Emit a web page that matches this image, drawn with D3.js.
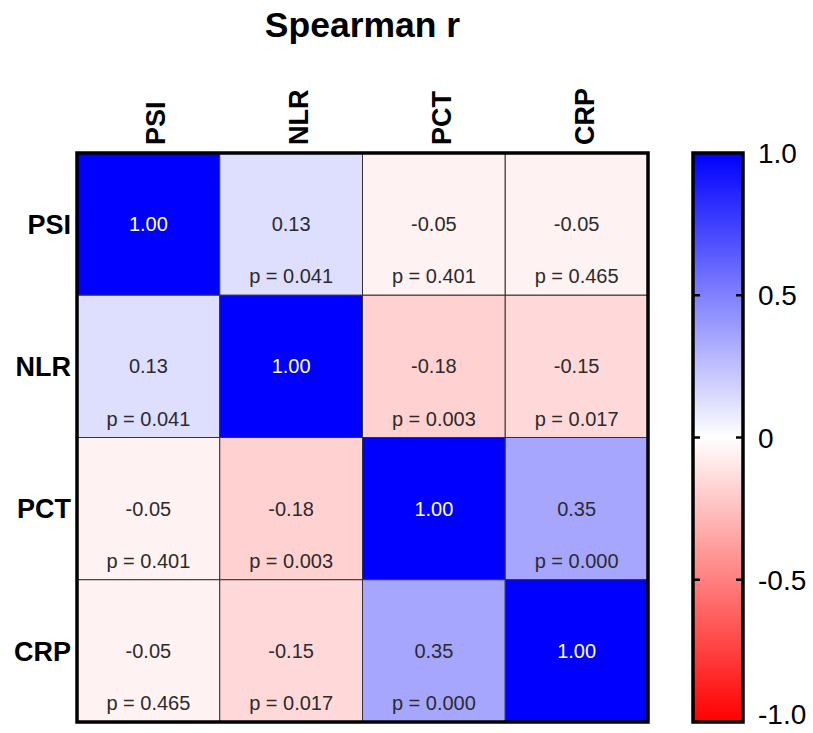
<!DOCTYPE html>
<html>
<head>
<meta charset="utf-8">
<script src="https://cdn.jsdelivr.net/npm/d3@7"></script>
<style>
  body { margin: 0; background: #fff; }
  svg { font-family: Arial, 'Liberation Sans', sans-serif; }
</style>
</head>
<body>
<script>
const variables = ['PSI', 'NLR', 'PCT', 'CRP'];
const rValues = [
  [1.00, 0.13, -0.05, -0.05],
  [0.13, 1.00, -0.18, -0.15],
  [-0.05, -0.18, 1.00, 0.35],
  [-0.05, -0.15, 0.35, 1.00]
];
const pValues = [
  [null, '0.041', '0.401', '0.465'],
  ['0.041', null, '0.003', '0.017'],
  ['0.401', '0.003', null, '0.000'],
  ['0.465', '0.017', '0.000', null]
];
const legendTicks = [1.0, 0.5, 0, -0.5, -1.0];
const title = 'Spearman r';

const width = 813;
const height = 733;
const grid = { left: 77, top: 153, right: 648, bottom: 722 };
const bar = { left: 693, right: 743 };

const colorScale = d3.scaleLinear()
  .domain([-1, 0, 1])
  .range(['#ff0000', '#ffffff', '#0000ff']);

const x = d3.scaleBand().domain(variables).range([grid.left, grid.right]);
const y = d3.scaleBand().domain(variables).range([grid.top, grid.bottom]);
const yBar = d3.scaleLinear().domain([-1, 1]).range([grid.bottom, grid.top]);

const cells = [];
rValues.forEach((row, i) => {
  row.forEach((r, j) => {
    cells.push({ row: variables[i], col: variables[j], r: r, p: pValues[i][j] });
  });
});

const svg = d3.select('body').append('svg')
  .attr('width', width)
  .attr('height', height);

svg.append('text')
  .attr('x', (grid.left + grid.right) / 2)
  .attr('y', 37)
  .attr('text-anchor', 'middle')
  .attr('font-size', 35.5)
  .attr('font-weight', 'bold')
  .text(title);

const cell = svg.append('g')
  .selectAll('g')
  .data(cells)
  .join('g')
    .attr('transform', d => `translate(${x(d.col)},${y(d.row)})`);

cell.append('rect')
  .attr('width', x.bandwidth())
  .attr('height', y.bandwidth())
  .attr('fill', d => colorScale(d.r))
  .attr('stroke', '#333')
  .attr('stroke-width', 1);

cell.append('text')
  .attr('x', x.bandwidth() / 2)
  .attr('y', y.bandwidth() / 2)
  .attr('dy', '0.35em')
  .attr('text-anchor', 'middle')
  .attr('font-size', 20)
  .attr('fill', d => d.r > 0.7 ? '#fff' : '#2b2b2b')
  .text(d => d.r.toFixed(2));

cell.filter(d => d.p !== null).append('text')
  .attr('x', x.bandwidth() / 2)
  .attr('y', y.bandwidth() - 12)
  .attr('text-anchor', 'middle')
  .attr('font-size', 20)
  .attr('fill', '#2b2b2b')
  .text(d => `p = ${d.p}`);

svg.append('rect')
  .attr('x', grid.left)
  .attr('y', grid.top)
  .attr('width', grid.right - grid.left)
  .attr('height', grid.bottom - grid.top)
  .attr('fill', 'none')
  .attr('stroke', '#000')
  .attr('stroke-width', 3.5);

// row labels
svg.append('g')
  .selectAll('text')
  .data(variables)
  .join('text')
    .attr('x', grid.left - 6)
    .attr('y', d => y(d) + y.bandwidth() / 2)
    .attr('dy', '0.36em')
    .attr('text-anchor', 'end')
    .attr('font-size', 27)
    .attr('font-weight', 'bold')
    .text(d => d);

// column labels
svg.append('g')
  .selectAll('text')
  .data(variables)
  .join('text')
    .attr('transform', d => `translate(${x(d) + x.bandwidth() / 2 + 17},${grid.top - 8}) rotate(-90)`)
    .attr('text-anchor', 'start')
    .attr('font-size', 27)
    .attr('font-weight', 'bold')
    .text(d => d);

// colour bar
const defs = svg.append('defs');
const grad = defs.append('linearGradient')
  .attr('id', 'bar-grad')
  .attr('x1', 0).attr('y1', 1)
  .attr('x2', 0).attr('y2', 0);
grad.selectAll('stop')
  .data(d3.range(-1, 1.0001, 0.1))
  .join('stop')
    .attr('offset', d => (d + 1) / 2)
    .attr('stop-color', d => colorScale(d));

svg.append('rect')
  .attr('x', bar.left)
  .attr('y', grid.top)
  .attr('width', bar.right - bar.left)
  .attr('height', grid.bottom - grid.top)
  .attr('fill', 'url(#bar-grad)')
  .attr('stroke', '#000')
  .attr('stroke-width', 3.5);

const inner = legendTicks.filter(t => Math.abs(t) < 1);
svg.append('g')
  .selectAll('path')
  .data(inner)
  .join('path')
    .attr('d', d => `M${bar.left},${yBar(d)}h7M${bar.right},${yBar(d)}h-7`)
    .attr('stroke', '#000')
    .attr('stroke-width', 2.5);

svg.append('g')
  .selectAll('text')
  .data(legendTicks)
  .join('text')
    .attr('x', 758)
    .attr('y', d => d === -1 ? yBar(d) - 8 : yBar(d))
    .attr('dy', '0.36em')
    .attr('font-size', 28)
    .text(d => d === 0 ? '0' : d.toFixed(1));
</script>
</body>
</html>
